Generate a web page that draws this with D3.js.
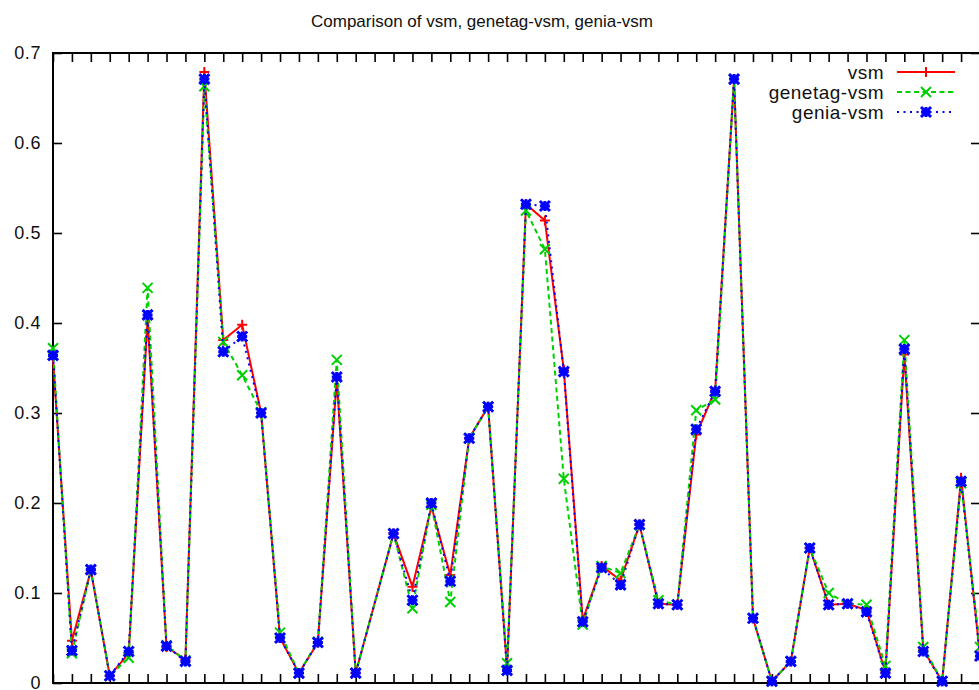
<!DOCTYPE html>
<html>
<head>
<meta charset="utf-8">
<script src="https://cdn.jsdelivr.net/npm/d3@7"></script>
<style>
  body { margin: 0; background: #fff; }
  svg { display: block; font-family: 'Liberation Sans', Arial, sans-serif; }
  .axis .domain { display: none; }
  .axis line { stroke: #000; stroke-width: 1.6; }
</style>
</head>
<body>
<div id="chart"></div>
<script>
/* global d3 */

// x positions 0..49, one value per position (17 is missing in the data)
const xDomain = [ 0, 49 ]
const yTicks = [ 0, 0.1, 0.2, 0.3, 0.4, 0.5, 0.6, 0.7 ]
const seriesNames = [ 'vsm', 'genetag-vsm', 'genia-vsm' ]

const vsm = [
  0.360, 0.047, 0.125, 0.008, 0.033, 0.405, 0.040, 0.026, 0.679, 0.381,
  0.398, 0.300, 0.050, 0.011, 0.045, 0.337, 0.011, null, 0.166, 0.107,
  0.196, 0.120, 0.272, 0.307, 0.015, 0.532, 0.514, 0.348, 0.070, 0.130,
  0.114, 0.176, 0.088, 0.087, 0.276, 0.325, 0.671, 0.072, 0.002, 0.024,
  0.150, 0.087, 0.088, 0.081, 0.012, 0.365, 0.037, 0.002, 0.228, 0.030
]
const genetagVsm = [
  0.372, 0.033, 0.126, 0.008, 0.028, 0.439, 0.042, 0.025, 0.663, 0.379,
  0.342, 0.301, 0.056, 0.011, 0.046, 0.359, 0.011, null, 0.166, 0.083,
  0.198, 0.090, 0.272, 0.307, 0.022, 0.525, 0.482, 0.227, 0.065, 0.130,
  0.122, 0.176, 0.092, 0.087, 0.303, 0.315, 0.671, 0.072, 0.002, 0.024,
  0.150, 0.100, 0.088, 0.087, 0.019, 0.381, 0.040, 0.002, 0.222, 0.040
]
const geniaVsm = [
  0.364, 0.036, 0.126, 0.008, 0.035, 0.409, 0.041, 0.024, 0.671, 0.368,
  0.385, 0.300, 0.050, 0.011, 0.045, 0.340, 0.011, null, 0.166, 0.092,
  0.200, 0.113, 0.272, 0.307, 0.014, 0.532, 0.530, 0.346, 0.068, 0.128,
  0.109, 0.176, 0.088, 0.087, 0.282, 0.324, 0.671, 0.072, 0.002, 0.024,
  0.150, 0.087, 0.088, 0.079, 0.011, 0.371, 0.035, 0.002, 0.224, 0.030
]

const width = 979
const height = 690
const margin = { top: 53, left: 53 }
const plotRight = 980
const plotBottom = 683

const svg = d3.select('#chart').append('svg').attr('width', width).attr('height', height)

const x = d3.scaleLinear().domain(xDomain).range([ margin.left, plotRight ])
const y = d3.scaleLinear().domain([ 0, 0.7 ]).range([ plotBottom, margin.top ])

const series = [
  { name: seriesNames[0], values: vsm, color: '#ff0000', dash: null, marker: 'plus' },
  { name: seriesNames[1], values: genetagVsm, color: '#00d000', dash: '5,3.5', marker: 'cross' },
  { name: seriesNames[2], values: geniaVsm, color: '#0000ff', dash: '2,4.5', marker: 'star' }
]

// ticks on all four sides, pointing inward
const xTicks = d3.range(xDomain[0], xDomain[1] + 1)
svg.append('g').attr('class', 'axis').attr('transform', `translate(0,${plotBottom})`)
  .call(d3.axisTop(x).tickValues(xTicks).tickSize(9).tickSizeOuter(0).tickFormat(''))
svg.append('g').attr('class', 'axis').attr('transform', `translate(0,${margin.top})`)
  .call(d3.axisBottom(x).tickValues(xTicks).tickSize(9).tickSizeOuter(0).tickFormat(''))
svg.append('g').attr('class', 'axis').attr('transform', `translate(${margin.left},0)`)
  .call(d3.axisRight(y).tickValues(yTicks).tickSize(9).tickSizeOuter(0).tickFormat(''))
svg.append('g').attr('class', 'axis').attr('transform', `translate(${plotRight},0)`)
  .call(d3.axisLeft(y).tickValues(yTicks).tickSize(9).tickSizeOuter(0).tickFormat(''))

svg.append('g')
  .selectAll('text')
  .data(yTicks)
  .enter()
  .append('text')
  .attr('x', 41)
  .attr('y', (d) => y(d) + 6)
  .attr('text-anchor', 'end')
  .attr('font-size', '18px')
  .attr('letter-spacing', '0.6px')
  .attr('fill', '#111')
  .text((d) => d === 0 ? '0' : d3.format('.1f')(d))

svg.append('rect')
  .attr('x', margin.left)
  .attr('y', margin.top)
  .attr('width', plotRight - margin.left)
  .attr('height', plotBottom - margin.top)
  .attr('fill', 'none')
  .attr('stroke', '#000')
  .attr('stroke-width', 2)

svg.append('text')
  .attr('x', 482)
  .attr('y', 27)
  .attr('text-anchor', 'middle')
  .attr('font-size', '17px')
  .attr('fill', '#111')
  .text('Comparison of vsm, genetag-vsm, genia-vsm')

function markerPath (type, s) {
  const p = d3.path()
  if (type === 'plus' || type === 'star') {
    p.moveTo(-s, 0); p.lineTo(s, 0)
    p.moveTo(0, -s); p.lineTo(0, s)
  }
  if (type === 'cross' || type === 'star') {
    p.moveTo(-s, -s); p.lineTo(s, s)
    p.moveTo(-s, s); p.lineTo(s, -s)
  }
  return p.toString()
}

const line = d3.line()
  .defined((d) => d.v !== null)
  .x((d) => x(d.i))
  .y((d) => y(d.v))

const plot = svg.append('g')

series.forEach((s) => {
  const pts = s.values.map((v, i) => ({ i, v })).filter((d) => d.v !== null)
  const g = plot.append('g')
  g.append('path')
    .attr('d', line(pts))
    .attr('fill', 'none')
    .attr('stroke', s.color)
    .attr('stroke-width', 2)
    .attr('stroke-dasharray', s.dash)
  g.selectAll('path.marker')
    .data(pts)
    .enter()
    .append('path')
    .attr('class', 'marker')
    .attr('transform', (d) => `translate(${x(d.i)},${y(d.v)})`)
    .attr('d', markerPath(s.marker, 5))
    .attr('stroke', s.color)
    .attr('stroke-width', s.marker === 'star' ? 3 : 2)
})

// legend
const legend = svg.append('g')
series.forEach((s, k) => {
  const ly = 72 + k * 20
  legend.append('text')
    .attr('x', 884)
    .attr('y', ly + 7)
    .attr('text-anchor', 'end')
    .attr('font-size', '19px')
    .attr('letter-spacing', '0.5px')
    .attr('fill', '#111')
    .text(s.name)
  legend.append('line')
    .attr('x1', 897).attr('x2', 955)
    .attr('y1', ly).attr('y2', ly)
    .attr('stroke', s.color)
    .attr('stroke-width', 2)
    .attr('stroke-dasharray', s.dash)
  legend.append('path')
    .attr('transform', `translate(926,${ly})`)
    .attr('d', markerPath(s.marker, 5))
    .attr('stroke', s.color)
    .attr('stroke-width', s.marker === 'star' ? 3 : 2)
})
</script>
</body>
</html>
